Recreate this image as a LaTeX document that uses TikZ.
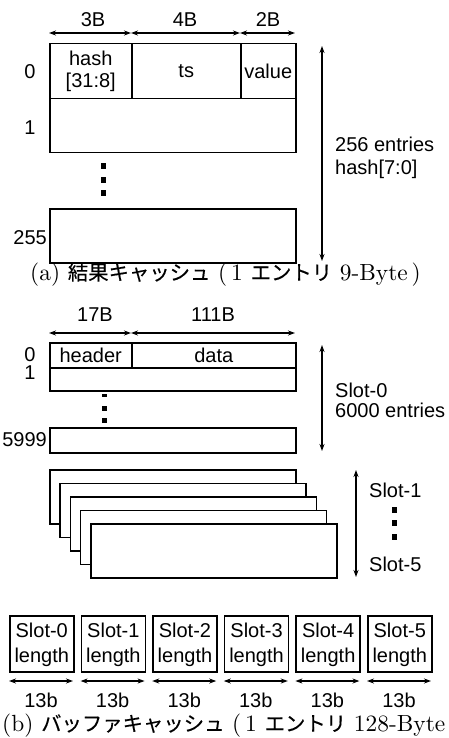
\documentclass[tikz,border=0pt]{standalone}
\usepackage{fontspec}
\usetikzlibrary{arrows.meta}
\newfontfamily\lbl{Liberation Sans}
\newfontfamily\capfont{lmroman10-regular.otf}
\newfontfamily\jp{Noto Sans CJK JP}[Scale=0.87, FakeBold=0.3]

\tikzset{
  cell/.style={draw, line width=1.5pt, fill=white, inner sep=0pt, anchor=north west},
  lab/.style={font=\lbl\fontsize{20}{22}\selectfont, inner sep=0pt, align=center},
  dim/.style={line width=1.2pt, {Stealth[length=7pt,width=5pt]}-{Stealth[length=7pt,width=5pt]}},
  dotmark/.style={fill=black, draw=none, minimum width=5pt, minimum height=5.5pt, inner sep=0pt},
  captext/.style={font=\capfont\fontsize{23.4}{26}\selectfont, inner sep=0pt, anchor=base west},
}

\begin{document}
\begin{tikzpicture}[x=1pt, y=-1pt]
\useasboundingbox (0,0) rectangle (449,738);

% ---------- (a) result cache ----------
\node[lab] (wa) at (93,20) {3B};
\node[lab] (wb) at (185,20) {4B};
\node[lab] (wc) at (268,20) {2B};
\coordinate (da0) at (49,33);
\coordinate (da1) at (131,33);
\coordinate (da2) at (240,33);
\coordinate (da3) at (295,33);
\draw[dim] (da0) -- (da1);
\draw[dim] (da1) -- (da2);
\draw[dim] (da2) -- (da3);

\node[cell, minimum width=82pt, minimum height=55pt] (hashc) at (49,43) {};
\node[cell, minimum width=109pt, minimum height=55pt] (tsc) at (131,43) {};
\node[cell, minimum width=55pt, minimum height=55pt] (valc) at (240,43) {};
\node[lab] (hasht) at (hashc.center) {hash\\[0pt][31:8]};
\node[lab] (tst) at (tsc.center) {ts};
\node[lab] (valt) at (valc.center) {value};
\node[cell, minimum width=246pt, minimum height=54pt] (ra1) at (49,98) {};
\node[cell, minimum width=246pt, minimum height=54pt] (ra255) at (49,208) {};

\node[lab] (ia0) at (30,72) {0};
\node[lab] (ia1) at (30,128) {1};
\node[lab, anchor=east] (ia255) at (47,238) {255};

\node[dotmark] (pa1) at (103,166) {};
\node[dotmark] (pa2) at (103,180) {};
\node[dotmark] (pa3) at (103,193) {};

\coordinate (va0) at (322,46);
\coordinate (va1) at (322,261);
\draw[dim] (va0) -- (va1);
\node[lab, anchor=west] (ent) at (335,144) {256 entries};
\node[lab, anchor=west] (hlo) at (335,169) {hash[7:0]};

\node[captext] (capa) at (30,280) {(a) {\jp 結果キャッシュ} (\,1 {\jp エントリ} 9-Byte\,)};

% ---------- (b) buffer cache ----------
\node[lab] (wd) at (95,315) {17B};
\node[lab] (we) at (213,315) {111B};
\coordinate (db0) at (49,333);
\coordinate (db1) at (131,333);
\coordinate (db2) at (295,333);
\draw[dim] (db0) -- (db1);
\draw[dim] (db1) -- (db2);

\node[cell, minimum width=82pt, minimum height=25pt] (hdr) at (49,342) {};
\node[cell, minimum width=164pt, minimum height=25pt] (dat) at (131,342) {};
\node[lab] (hdrt) at (hdr.center) {header};
\node[lab] (datt) at (dat.center) {data};
\node[cell, minimum width=246pt, minimum height=23pt] (rb1) at (49,367) {};
\node[cell, minimum width=246pt, minimum height=25pt] (rb5999) at (49,427) {};

\node[lab] (ib0) at (30,354.5) {0};
\node[lab] (ib1) at (30,373) {1};
\node[lab, anchor=east] (ib5999) at (47,440) {5999};

\node[dotmark, minimum height=3pt] (pb1) at (104.5,395.5) {};
\node[dotmark] (pb2) at (104.5,408.5) {};
\node[dotmark] (pb3) at (104.5,420.5) {};

\coordinate (vb0) at (322,345);
\coordinate (vb1) at (322,451);
\draw[dim] (vb0) -- (vb1);
\node[lab, anchor=west] (s0) at (335,390) {Slot-0};
\node[lab, anchor=west] (s0n) at (335,410) {6000 entries};

% stacked slots 1..5
\foreach \i in {0,...,4} {
  \node[cell, minimum width=246pt, minimum height=54pt] (stk\i) at ({49+10.25*\i},{469+13.5*\i}) {};
}
\coordinate (vc0) at (356,470);
\coordinate (vc1) at (356,577);
\draw[dim] (vc0) -- (vc1);
\node[lab, anchor=west] (s1) at (369,490) {Slot-1};
\node[dotmark] (pc1) at (394,510) {};
\node[dotmark] (pc2) at (394,523) {};
\node[dotmark] (pc3) at (394,537) {};
\node[lab, anchor=west] (s5) at (369,564) {Slot-5};

% slot length fields
\foreach \i in {0,...,5} {
  \node[cell, minimum width=64pt, minimum height=56pt] (len\i) at ({9+71.6*\i},615) {};
  \node[lab, font=\lbl\fontsize{20}{25}\selectfont] (lent\i) at ([yshift=-1pt]len\i.center) {Slot-\i\\length};
  \coordinate (la\i) at ({9+71.6*\i},681);
  \coordinate (lb\i) at ({73+71.6*\i},681);
  \draw[dim] (la\i) -- (lb\i);
  \node[lab] (bits\i) at ({41+71.6*\i},700) {13b};
}

\node[captext] (capb) at (2,731) {(b) {\jp バッファキャッシュ} (\,1 {\jp エントリ} 128-Byte\,)};
\end{tikzpicture}
\end{document}
